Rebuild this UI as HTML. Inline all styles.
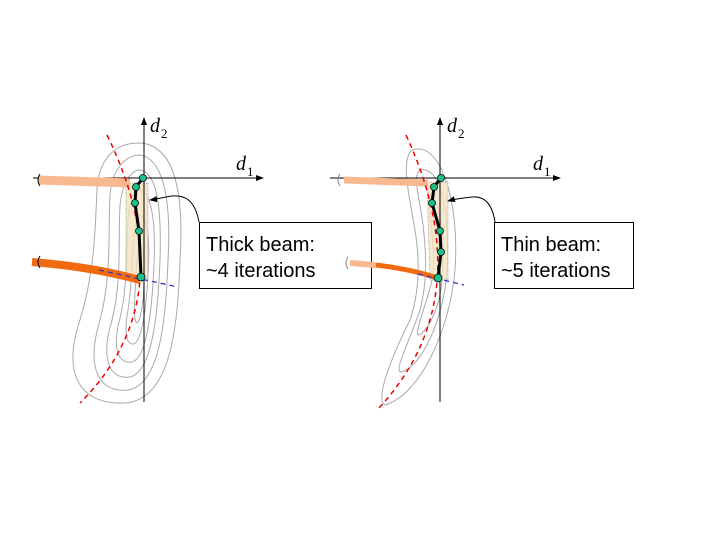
<!DOCTYPE html>
<html><head><style>body{margin:0;background:#fff}svg{display:block}</style></head><body>
<svg width="720" height="540" viewBox="0 0 720 540" xmlns="http://www.w3.org/2000/svg" font-family="Liberation Sans, sans-serif">
<defs><marker id="ar" markerWidth="8" markerHeight="8" refX="7" refY="4" orient="auto"><path d="M0,1 L8,4 L0,7z" fill="#000"/></marker></defs>
<!-- LEFT -->
<g fill="none" stroke="#aaa" stroke-width="1">
<path d="M140,143 C170,145 185,180 180,260 C178,330 170,400 125,403 C85,405 60,380 80,320 C95,270 95,230 97,190 C98,160 115,142 140,143Z"/>
<path d="M140,155 C160,158 172,190 168,260 C166,320 160,385 128,390 C100,393 85,370 100,320 C112,275 108,230 110,195 C112,170 125,155 140,155Z"/>
<path d="M140,170 C155,172 162,200 160,260 C158,315 152,372 130,377 C110,380 100,360 112,320 C122,280 118,240 120,205 C122,185 130,170 140,170Z"/>
<path d="M140,190 C150,192 156,215 154,265 C152,310 147,358 132,362 C118,364 112,348 120,318 C128,285 126,250 128,220 C130,200 133,190 140,190Z"/>
<path d="M140,215 C148,218 150,240 148,275 C146,310 142,340 134,344 C126,345 124,332 128,310 C132,285 132,255 134,235 C135,222 137,215 140,215Z"/>
<path d="M140,245 C145,250 145,275 143,300 C141,318 138,325 136,322 C133,318 135,295 136,275 C137,258 138,247 140,245Z"/>
</g>
<rect x="126" y="183" width="22" height="95" fill="#f3e3c0" opacity="0.8" stroke="#999" stroke-dasharray="1,1"/>
<line x1="144" y1="402" x2="144" y2="118" stroke="#000" marker-end="url(#ar)"/>
<line x1="33" y1="178" x2="263" y2="178" stroke="#000" marker-end="url(#ar)"/>
<text x="150" y="132" font-family="Liberation Serif, serif" font-style="italic" font-size="20">d</text><text x="161" y="138" font-family="Liberation Serif, serif" font-size="13">2</text>
<text x="236" y="170" font-family="Liberation Serif, serif" font-style="italic" font-size="20">d</text><text x="247" y="176" font-family="Liberation Serif, serif" font-size="13">1</text>
<path d="M38,180 L130,183" stroke="#f8b890" stroke-width="9"/>
<path d="M32,262 C80,266 110,272 140,280" stroke="#f26a10" stroke-width="8" fill="none"/>
<path d="M40,174 q-4,6 0,12 M40,256 q-4,6 0,12" stroke="#000" fill="none"/>
<path d="M107,135 Q186,297 80,403" stroke="#e00" stroke-width="1.5" stroke-dasharray="5,4" fill="none"/>
<line x1="99" y1="270" x2="178" y2="287" stroke="#33c" stroke-width="1.3" stroke-dasharray="5,4"/>
<polyline points="143,178 136,187 135,203 139,231 141,277" stroke="#000" stroke-width="3" fill="none"/>
<g fill="#1ac08a" stroke="#000" stroke-width="0.8"><circle cx="143" cy="178" r="3.5"/><circle cx="136" cy="187" r="3.5"/><circle cx="135" cy="203" r="3.5"/><circle cx="139" cy="231" r="3.5"/><circle cx="141" cy="277" r="4"/></g>
<path d="M199,222 C195,200 185,195 172,196 C165,197 158,199 150,200" stroke="#000" fill="none" marker-end="url(#ar)"/>
<rect x="199.5" y="222.5" width="172" height="66" fill="#fff" stroke="#000"/>
<text x="206" y="251" font-size="20">Thick beam:</text>
<text x="206" y="277" font-size="20">~4 iterations</text>
<!-- RIGHT -->
<g fill="none" stroke="#aaa" stroke-width="1">
<path d="M412,150 C440,140 460,200 455,270 C450,330 420,395 385,405 C375,400 390,360 410,320 C420,290 420,260 415,230 C410,200 400,160 412,150Z"/>
<path d="M420,170 C440,165 450,210 447,270 C444,320 420,370 400,372 C395,368 410,340 420,310 C428,280 426,250 423,225 C420,200 412,175 420,170Z"/>
<path d="M430,200 C442,200 444,240 442,280 C440,310 425,335 418,335 C415,330 428,300 432,280 C436,260 430,220 430,200Z"/>
</g>
<path d="M427,182 L448,182 L448,280 L430,280 Z" fill="#f3e3c0" opacity="0.8" stroke="#999" stroke-dasharray="1,1"/>
<line x1="440" y1="402" x2="440" y2="118" stroke="#000" marker-end="url(#ar)"/>
<line x1="330" y1="178" x2="560" y2="178" stroke="#000" marker-end="url(#ar)"/>
<text x="447" y="132" font-family="Liberation Serif, serif" font-style="italic" font-size="20">d</text><text x="458" y="138" font-family="Liberation Serif, serif" font-size="13">2</text>
<text x="533" y="170" font-family="Liberation Serif, serif" font-style="italic" font-size="20">d</text><text x="544" y="176" font-family="Liberation Serif, serif" font-size="13">1</text>
<path d="M344,180 L428,183" stroke="#f8b890" stroke-width="7"/>
<path d="M350,263 L376,265" stroke="#f8b890" stroke-width="6"/>
<path d="M376,265 C400,268 420,272 437,278" stroke="#f26a10" stroke-width="5" fill="none"/>
<path d="M340,174 q-4,6 0,12 M348,257 q-4,6 0,12" stroke="#888" fill="none"/>
<path d="M406,135 Q481,297 379,408" stroke="#e00" stroke-width="1.5" stroke-dasharray="5,4" fill="none"/>
<line x1="418" y1="274" x2="464" y2="285" stroke="#33c" stroke-width="1.3" stroke-dasharray="5,4"/>
<polyline points="441,178 434,187 432,203 440,231 441,252 438,278" stroke="#000" stroke-width="3" fill="none"/>
<g fill="#1ac08a" stroke="#000" stroke-width="0.8"><circle cx="441" cy="178" r="3.5"/><circle cx="434" cy="187" r="3.5"/><circle cx="432" cy="203" r="3.5"/><circle cx="440" cy="231" r="3.5"/><circle cx="441" cy="252" r="3.5"/><circle cx="438" cy="278" r="4"/></g>
<path d="M495,222 C492,202 483,196 472,197 C462,198 455,199 448,201" stroke="#000" fill="none" marker-end="url(#ar)"/>
<rect x="494.5" y="222.5" width="139" height="66" fill="#fff" stroke="#000"/>
<text x="501" y="251" font-size="20">Thin beam:</text>
<text x="501" y="277" font-size="20">~5 iterations</text>
</svg>
</body></html>
